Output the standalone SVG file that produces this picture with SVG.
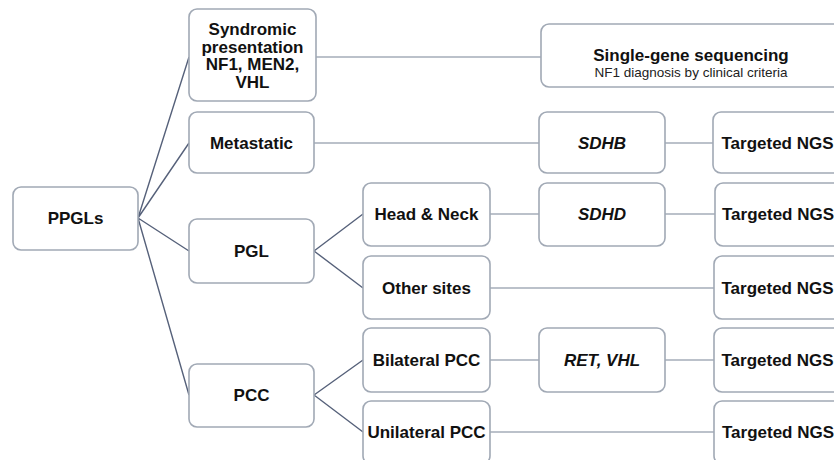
<svg xmlns="http://www.w3.org/2000/svg" width="834" height="460" viewBox="0 0 834 460">
<style>
.box{fill:#ffffff;stroke:#a1a9b5;stroke-width:1.6}
.t{font-family:"Liberation Sans",Arial,sans-serif;font-size:17px;font-weight:bold;fill:#111111;text-anchor:middle}
.i{font-style:italic}
.s{font-family:"Liberation Sans",Arial,sans-serif;font-size:13.5px;fill:#222222;text-anchor:middle}
.d{stroke:#56617a;stroke-width:1.4;fill:none}
.h{stroke:#a5adb9;stroke-width:1.6;fill:none}
</style>
<rect width="834" height="460" fill="#ffffff"/>
<g id="connectors">
<path class="d" d="M138 218 L189 57 M138 218 L189 143 M138 218 L189 251 M138 218 L189 395"/>
<path class="d" d="M314 251 L363 214 M314 251 L363 288 M314 395 L363 360 M314 395 L363 432"/>
<path class="h" d="M316 57 H541 M314 143 H539 M665 143 H713 M490 214 H539 M665 214 H715 M490 288 H714 M490 360 H539 M665 360 H714 M490 432 H714"/>
</g>
<g id="ppgls"><rect class="box" x="13" y="187" width="125" height="63" rx="8"/><text class="t" x="75.5" y="224">PPGLs</text></g>
<g id="syndromic"><rect class="box" x="189" y="9" width="127" height="92" rx="8"/>
<text class="t" x="252.5" y="35">Syndromic</text><text class="t" x="252.5" y="52.5">presentation</text><text class="t" x="252.5" y="70">NF1, MEN2,</text><text class="t" x="252.5" y="87.5">VHL</text></g>
<g id="metastatic"><rect class="box" x="189" y="112" width="125" height="61" rx="8"/><text class="t" x="251.5" y="149">Metastatic</text></g>
<g id="pgl"><rect class="box" x="189" y="219" width="125" height="64" rx="8"/><text class="t" x="251.5" y="257">PGL</text></g>
<g id="pcc"><rect class="box" x="189" y="364" width="125" height="63" rx="8"/><text class="t" x="251.5" y="401">PCC</text></g>
<g id="headneck"><rect class="box" x="363" y="183" width="127" height="63" rx="8"/><text class="t" x="426.5" y="220">Head &amp; Neck</text></g>
<g id="othersites"><rect class="box" x="363" y="256" width="127" height="63" rx="8"/><text class="t" x="426.5" y="294">Other sites</text></g>
<g id="bilateral"><rect class="box" x="363" y="328" width="127" height="64" rx="8"/><text class="t" x="426.5" y="366">Bilateral PCC</text></g>
<g id="unilateral"><rect class="box" x="363" y="401" width="127" height="63" rx="8"/><text class="t" x="426.5" y="438">Unilateral PCC</text></g>
<g id="singlegene"><rect class="box" x="541" y="24" width="310" height="63" rx="8"/>
<text class="t" x="691" y="61">Single-gene sequencing</text><text class="s" x="691" y="77">NF1 diagnosis by clinical criteria</text></g>
<g id="sdhb"><rect class="box" x="539" y="112" width="126" height="61" rx="8"/><text class="t i" x="602" y="149">SDHB</text></g>
<g id="sdhd"><rect class="box" x="539" y="183" width="126" height="63" rx="8"/><text class="t i" x="602" y="220">SDHD</text></g>
<g id="retvhl"><rect class="box" x="539" y="328" width="126" height="64" rx="8"/><text class="t i" x="602" y="366">RET, VHL</text></g>
<g id="ngs1"><rect class="box" x="713" y="112" width="128" height="61" rx="8"/><text class="t" x="777.5" y="149">Targeted NGS</text></g>
<g id="ngs2"><rect class="box" x="715" y="183" width="128" height="63" rx="8"/><text class="t" x="778" y="220">Targeted NGS</text></g>
<g id="ngs3"><rect class="box" x="714" y="256" width="128" height="63" rx="8"/><text class="t" x="777.5" y="294">Targeted NGS</text></g>
<g id="ngs4"><rect class="box" x="714" y="328" width="128" height="64" rx="8"/><text class="t" x="777.5" y="366">Targeted NGS</text></g>
<g id="ngs5"><rect class="box" x="714" y="401" width="128" height="63" rx="8"/><text class="t" x="778" y="438">Targeted NGS</text></g>
</svg>
